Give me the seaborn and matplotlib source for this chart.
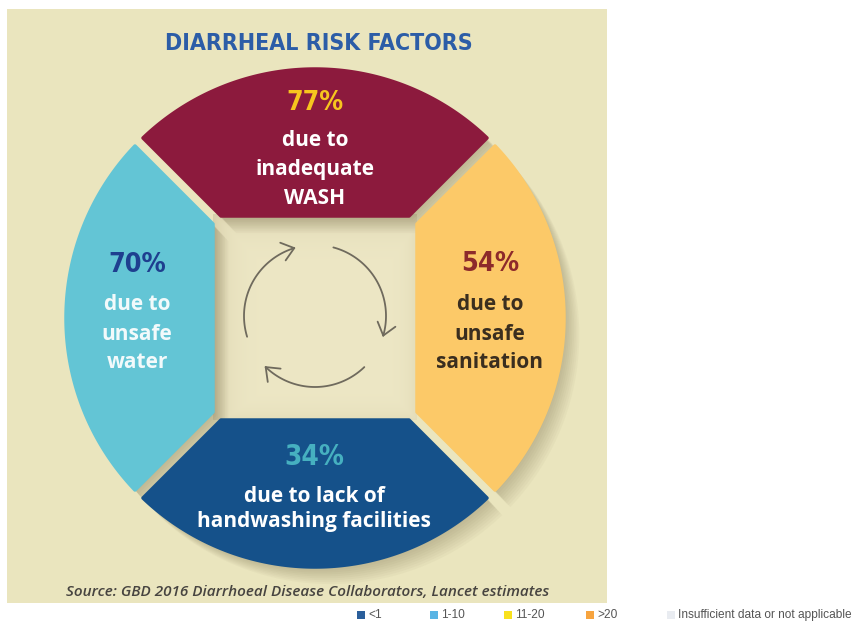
import numpy as np
import matplotlib
matplotlib.use("Agg")
import matplotlib.pyplot as plt
import seaborn as sns
import pandas as pd
from matplotlib.patches import Polygon, Rectangle
from matplotlib import font_manager as fm

# ---------------- data ----------------
title_text = "DIARRHEAL RISK FACTORS"
risk_factors = ["inadequate WASH", "unsafe water", "unsafe sanitation",
                "lack of handwashing facilities"]
risk_percent = [77, 70, 54, 34]
risk_lines = [["due to", "inadequate", "WASH"],
              ["due to", "unsafe", "water"],
              ["due to", "unsafe", "sanitation"],
              ["due to lack of", "handwashing facilities"]]
source_text = "Source: GBD 2016 Diarrhoeal Disease Collaborators, Lancet estimates"
legend_labels = ["<1", "1-10", "11-20", ">20", "Insufficient data or not applicable"]

# ---------------- styles / layout ----------------
seg_dir = [90, 180, 0, 270]
seg_colors = ["#8C1A3D", "#63C5D5", "#FCC968", "#15518A"]
pct_colors = ["#F7C51E", "#1E3F8F", "#8D2A2B", "#46B0C0"]
txt_colors = ["#FFFFFF", "#F2FAFB", "#3A2E1F", "#FFFFFF"]
legend_colors = ["#2B5F9B", "#59B4E4", "#F9E11E", "#F7A43F", "#E9ECF1"]
label_pos = [(315, 103, [141, 170, 199]),
             (137, 265, [305, 334, 363]),
             (490, 264, [305, 334, 362]),
             (314, 457, [497, 522])]
pct_width = [57, 58, 58, 60]
W, H = 857, 622


def Y(yp):
    return H - yp


sns.set_theme(style="white")
body = "Open Sans" if any(f.name == "Open Sans" for f in fm.fontManager.ttflist) else "DejaVu Sans"
plt.rcParams["font.family"] = [body, "DejaVu Sans"]

# find the most condensed bold face available
smap = {"ultra-condensed": 50, "extra-condensed": 62.5, "condensed": 75,
        "semi-condensed": 87.5, "normal": 100, "semi-expanded": 112.5,
        "expanded": 125, "extra-expanded": 150, "ultra-expanded": 200}


def stretch_val(f):
    s = f.stretch
    if isinstance(s, str):
        v = smap.get(s, 100)
    else:
        v = float(s)
    nm = f.name.lower()
    if "narrow" in nm or "condensed" in nm or "compressed" in nm:
        v = min(v, 80)
    return v


def wval(f):
    w = f.weight
    if isinstance(w, str):
        w = {"bold": 700, "semibold": 600, "demibold": 600, "heavy": 800,
             "black": 900, "extra bold": 800, "normal": 400, "regular": 400}.get(w, 400)
    return float(w)


cands = [f for f in fm.fontManager.ttflist
         if "mono" not in f.name.lower() and f.style == "normal"]
cands.sort(key=lambda f: (stretch_val(f), abs(wval(f) - 700)))
best = cands[0] if cands and stretch_val(cands[0]) < 100 else None
if best is not None:
    cond_path = best.fname
else:
    cond_path = fm.findfont(fm.FontProperties(family="DejaVu Sans", weight="bold"))


def cfont(size):
    return fm.FontProperties(fname=cond_path, size=size)


fig = plt.figure(figsize=(W / 100, H / 100), dpi=100, facecolor="white")
ax = fig.add_axes([0, 0, 1, 1])
ax.set_xlim(0, W)
ax.set_ylim(0, H)
ax.axis("off")
renderer = fig.canvas.get_renderer()


def fit_text(x, y, s, color, target_w, cap_px):
    t = ax.text(x, y, s, ha="center", va="center", color=color,
                fontproperties=cfont(20), zorder=5)
    wpx = t.get_window_extent(renderer).width
    size_w = 20 * target_w / wpx
    size_h = cap_px / 0.73 * 72 / 100
    t.set_fontproperties(cfont(min(size_w, size_h)))
    return t


# panel
ax.add_patch(Rectangle((7, Y(603)), 600, 594, facecolor="#EAE5BE", edgecolor="none", zorder=0))

cx, cy = 315, Y(318)
R, h, g = 249, 102, 8


def seg_poly(theta_deg, n=120):
    u1 = (g + np.sqrt(2 * R * R - g * g)) / 2
    v1 = u1 - g
    a = np.arctan2(v1, u1)
    ts = np.linspace(a, -a, n)
    local = [(h, -(h - g)), (h, h - g)] + [(R * np.cos(t), R * np.sin(t)) for t in ts]
    th = np.radians(theta_deg)
    return np.array([(cx + u * np.cos(th) - v * np.sin(th),
                      cy + u * np.sin(th) + v * np.cos(th)) for u, v in local])


# central recessed square with soft shading
yy, xx = np.mgrid[0:120, 0:120] / 119.0 * 204
shade = np.maximum(np.exp(-xx / 14.0), np.exp(-yy / 14.0)) * 0.55
shade = np.maximum(shade, np.maximum(np.exp(-(204 - xx) / 10.0), np.exp(-(204 - yy) / 10.0)) * 0.25)
base = np.array([237, 231, 197]) / 255
dark = np.array([200, 190, 150]) / 255
sq = base[None, None, :] * (1 - shade[..., None]) + dark[None, None, :] * shade[..., None]
ax.imshow(sq, extent=[213, 417, Y(420), Y(214)], origin="upper", zorder=1, interpolation="bilinear")

# shadows and segments
for i, d in enumerate(seg_dir):
    pts = seg_poly(d)
    for k in range(1, 10):
        ax.add_patch(Polygon(pts + np.array([k * 1.7, -k * 1.9]), closed=True,
                             facecolor="#5A5030", edgecolor="none", alpha=0.035, zorder=2))
for i, d in enumerate(seg_dir):
    pts = seg_poly(d)
    ax.add_patch(Polygon(pts, closed=True, facecolor=seg_colors[i], edgecolor=seg_colors[i],
                         linewidth=2.5, joinstyle="round", zorder=3))

# cycle arrows
acx, acy, ar = 315, Y(316), 71
arc_spans = [(197, 107), (75, -16), (-46, -134)]
for a0, a1 in arc_spans:
    t = np.radians(np.linspace(a0, a1, 60))
    ax.plot(acx + ar * np.cos(t), acy + ar * np.sin(t), color="#6F6A5D", lw=1.3,
            solid_capstyle="round", zorder=4)
    te = np.radians(a1)
    tip = np.array([acx + ar * np.cos(te), acy + ar * np.sin(te)])
    dvec = np.array([np.sin(te), -np.cos(te)])
    for s in (1, -1):
        ang = np.radians(38 * s)
        rot = np.array([[np.cos(ang), -np.sin(ang)], [np.sin(ang), np.cos(ang)]])
        back = rot @ (-dvec) * 15
        ax.plot([tip[0], tip[0] + back[0]], [tip[1], tip[1] + back[1]], color="#6F6A5D",
                lw=1.3, solid_capstyle="round", zorder=4)

# title
fit_text(319, Y(43), title_text, "#2C5DA7", 308, 30)

# segment labels
for i in range(4):
    x, yp, lys = label_pos[i]
    fit_text(x, Y(yp), f"{risk_percent[i]}%", pct_colors[i], pct_width[i], 35)
    for line, ly in zip(risk_lines[i], lys):
        ax.text(x, Y(ly), line, ha="center", va="center", color=txt_colors[i],
                fontsize=15, fontweight="bold", family=[body, "DejaVu Sans"], zorder=5)

# source
ax.text(308, Y(592), source_text, ha="center", va="center", color="#474440",
        fontsize=11, style="italic", fontweight="semibold", family=[body, "DejaVu Sans"], zorder=5)

# legend (seaborn scatter of square markers)
leg_x = [361, 434, 508, 590, 671]
leg_df = pd.DataFrame({"x": leg_x, "y": [Y(615)] * 5, "cat": legend_labels})
sns.scatterplot(data=leg_df, x="x", y="y", hue="cat", palette=legend_colors,
                marker="s", s=32, edgecolor="none", legend=False, ax=ax, zorder=5)
ax.set_xlim(0, W)
ax.set_ylim(0, H)
ax.axis("off")
for lab, x in zip(legend_labels, leg_x):
    ax.text(x + 7, Y(615), lab, ha="left", va="center", color="#555555",
            fontsize=8.6, family=["Liberation Sans", "DejaVu Sans"], zorder=5)

fig.savefig("out.png", dpi=100, facecolor="white")
